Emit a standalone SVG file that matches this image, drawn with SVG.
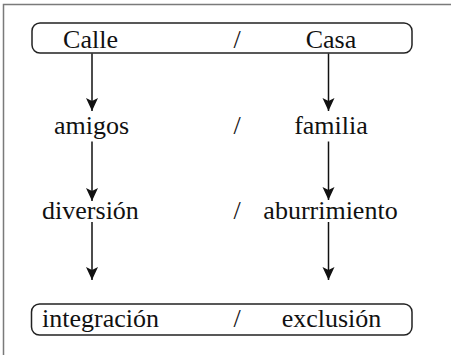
<svg xmlns="http://www.w3.org/2000/svg" width="451" height="355" viewBox="0 0 451 355">
  <style>
    .t { font-size: 26px; fill: #111; text-anchor: middle; }
    .box { fill: none; stroke: #222; stroke-width: 1.5; }
    .edge { stroke: #111; stroke-width: 1.5; fill: none; marker-end: url(#arrow); }
    .frame { stroke: #7a7a7a; stroke-width: 1.5; fill: none; }
  </style>
  <defs>
    <marker id="arrow" markerUnits="userSpaceOnUse" viewBox="-1 -7 15 14" refX="13" refY="0" markerWidth="15" markerHeight="14" orient="auto">
      <path d="M0,-6 L13,0 L0,6 L3,0 Z" fill="#111"/>
    </marker>
  </defs>
  <rect width="451" height="355" fill="#fff"/>
  <path class="frame" d="M3.5,355 L3.5,4.5 L451,4.5"/>

  <g font-family="'Liberation Serif', 'DejaVu Serif', 'Times New Roman', Times, serif">
  <g id="node-top">
    <rect class="box" x="32" y="23" width="380" height="30" rx="8" ry="8"/>
    <text class="t" x="90.5" y="48">Calle</text>
    <text class="t" x="237" y="48">/</text>
    <text class="t" x="331" y="48">Casa</text>
  </g>
  <g id="node-amigos">
    <text class="t" x="91.5" y="133.5">amigos</text>
  </g>
  <g id="node-sep2">
    <text class="t" x="237" y="133.5">/</text>
  </g>
  <g id="node-familia">
    <text class="t" x="331" y="133.5">familia</text>
  </g>
  <g id="node-diversion">
    <text class="t" x="90.5" y="218.5">diversión</text>
  </g>
  <g id="node-sep3">
    <text class="t" x="237" y="218.5">/</text>
  </g>
  <g id="node-aburrimiento">
    <text class="t" x="330.5" y="218.5">aburrimiento</text>
  </g>
  <g id="node-bottom">
    <rect class="box" x="31.5" y="304" width="380.5" height="31" rx="8" ry="8"/>
    <text class="t" x="100.5" y="327">integración</text>
    <text class="t" x="237" y="327">/</text>
    <text class="t" x="331.5" y="327">exclusión</text>
  </g>
  </g>

  <g id="connectors">
    <line class="edge" x1="92" y1="53.5" x2="92" y2="111"/>
    <line class="edge" x1="328.5" y1="53.5" x2="328.5" y2="111"/>
    <line class="edge" x1="92" y1="141.5" x2="92" y2="201"/>
    <line class="edge" x1="328.5" y1="141.5" x2="328.5" y2="200"/>
    <line class="edge" x1="92" y1="222" x2="92" y2="280"/>
    <line class="edge" x1="328.5" y1="222" x2="328.5" y2="280"/>
  </g>
</svg>
